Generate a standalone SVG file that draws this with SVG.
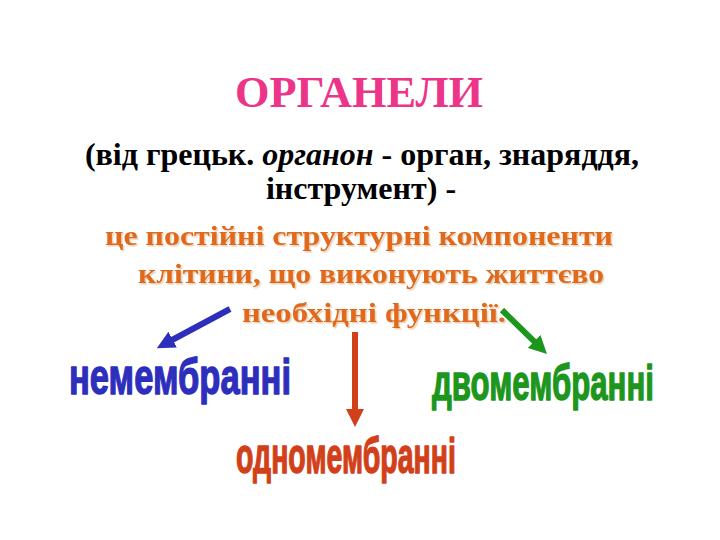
<svg xmlns="http://www.w3.org/2000/svg" width="720" height="540" viewBox="0 0 720 540">
  <style>
    .serif { font-family: "Liberation Serif", "Times New Roman", "DejaVu Serif", serif; font-weight: bold; }
    .title { font-size: 44px; fill: #EC3589; }
    .def { font-size: 32px; fill: #000000; }
    .it { font-style: italic; }
    .orange { font-size: 28px; fill: #E0691A; filter: url(#shadow); }
    .label { font-family: "Liberation Sans Narrow", "Liberation Sans", Arial, sans-serif; font-weight: bold; font-size: 50px; stroke-width: 1.4; stroke-linejoin: round; }
    .blue { fill: #2E2EBC; stroke: #2E2EBC; }
    .green { fill: #1C961C; stroke: #1C961C; }
    .red { fill: #D2401A; stroke: #D2401A; }
    .conn { fill: none; stroke-width: 6; stroke-linecap: butt; }
  </style>
  <defs>
    <filter id="shadow" x="-5%" y="-20%" width="110%" height="150%">
      <feDropShadow dx="1.5" dy="1.5" stdDeviation="0.6" flood-color="#C89A60" flood-opacity="0.45"/>
    </filter>
    <marker id="hBlue" viewBox="0 0 10 10" refX="1" refY="5" markerWidth="3" markerHeight="3" orient="auto" markerUnits="strokeWidth">
      <path d="M0,0 L10,5 L0,10 z" fill="#2E2EBC"/>
    </marker>
    <marker id="hRed" viewBox="0 0 10 10" refX="1" refY="5" markerWidth="3" markerHeight="3" orient="auto" markerUnits="strokeWidth">
      <path d="M0,0 L10,5 L0,10 z" fill="#D2401A"/>
    </marker>
    <marker id="hGreen" viewBox="0 0 10 10" refX="1" refY="5" markerWidth="3" markerHeight="3" orient="auto" markerUnits="strokeWidth">
      <path d="M0,0 L10,5 L0,10 z" fill="#1C961C"/>
    </marker>
  </defs>
  <rect width="720" height="540" fill="#FFFFFF"/>

  <g id="title">
    <text class="serif title" x="235" y="107" textLength="248" lengthAdjust="spacingAndGlyphs">ОРГАНЕЛИ</text>
  </g>

  <g id="definition">
    <text class="serif def" x="362" y="165" text-anchor="middle">(від грецьк. <tspan class="it">органон</tspan> - орган, знаряддя,</text>
    <text class="serif def" x="361" y="199" text-anchor="middle">інструмент) -</text>
    <text class="serif orange" x="105" y="245" textLength="508" lengthAdjust="spacingAndGlyphs">це постійні структурні компоненти</text>
    <text class="serif orange" x="138" y="283" textLength="466" lengthAdjust="spacingAndGlyphs">клітини, що виконують життєво</text>
    <text class="serif orange" x="242" y="322" textLength="264" lengthAdjust="spacingAndGlyphs">необхідні функції.</text>
  </g>

  <g id="connectors">
    <line class="conn" x1="230" y1="309" x2="171.1" y2="340.5" stroke="#2E2EBC" marker-end="url(#hBlue)"/>
    <line class="conn" x1="355" y1="332" x2="355" y2="410.8" stroke="#D2401A" marker-end="url(#hRed)"/>
    <line class="conn" x1="502" y1="310" x2="535.4" y2="342.7" stroke="#1C961C" marker-end="url(#hGreen)"/>
  </g>

  <g id="node-nemembranni">
    <text class="label blue" x="69" y="394" textLength="222" lengthAdjust="spacingAndGlyphs">немембранні</text>
  </g>
  <g id="node-dvomembranni">
    <text class="label green" x="432" y="400" textLength="222" lengthAdjust="spacingAndGlyphs">двомембранні</text>
  </g>
  <g id="node-odnomembranni">
    <text class="label red" x="236" y="473" textLength="220" lengthAdjust="spacingAndGlyphs">одномембранні</text>
  </g>
</svg>
